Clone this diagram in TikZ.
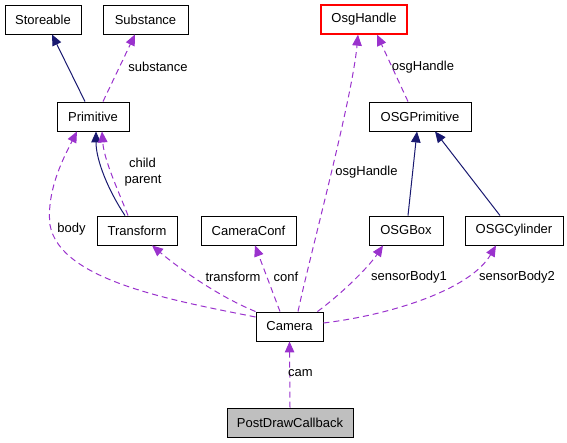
\documentclass[tikz,border=0pt]{standalone}
\usepackage{fontspec}
\setmainfont{Liberation Sans}
\usetikzlibrary{arrows.meta}
\definecolor{navyline}{HTML}{191970}
\definecolor{purpleline}{HTML}{9A32CD}
\definecolor{callbackfill}{HTML}{BFBFBF}

\begin{document}
\begin{tikzpicture}[x=1pt, y=-1pt,
		classbox/.style={draw=black, line width=0.9pt, minimum height=29pt, inner sep=0pt, font=\fontsize{13}{15}\selectfont},
		inheritline/.style={draw=navyline, line width=1pt, -{Triangle[length=11pt,width=9.5pt]}},
		useline/.style={draw=purpleline, line width=1pt, dash pattern=on 6pt off 4pt, -{Triangle[length=11pt,width=9.5pt]}},
		edgelabel/.style={font=\fontsize{13}{15}\selectfont, inner sep=0pt}]
			%%%%% START %%%%%
			
			\useasboundingbox (0, 0) rectangle (567, 443);
			
			\node[classbox, minimum width=76pt] (storeable) at (43, 19.5) {Storeable};
			\node[classbox, minimum width=85pt] (substance) at (145.5, 19.5) {Substance};
			\node[classbox, minimum width=86pt, draw=red, line width=1.3pt] (osghandle) at (364, 19.5) {OsgHandle};
			
			\node[classbox, minimum width=72pt] (primitive) at (93, 116.5) {Primitive};
			\node[classbox, minimum width=102pt] (osgprimitive) at (420, 116.5) {OSGPrimitive};
			
			\node[classbox, minimum width=80pt] (transform) at (137, 230.5) {Transform};
			\node[classbox, minimum width=95pt] (cameraconf) at (248.5, 230.5) {CameraConf};
			\node[classbox, minimum width=74pt] (osgbox) at (406, 230.5) {OSGBox};
			\node[classbox, minimum width=98pt] (osgcylinder) at (514, 230.5) {OSGCylinder};
			
			\node[classbox, minimum width=67pt] (camera) at (289.5, 326.5) {Camera};
			\node[classbox, minimum width=126pt, fill=callbackfill] (postdraw) at (290, 422.5) {PostDrawCallback};
			
			% top row
			\draw[inheritline] ([xshift=-8pt]primitive.north) -- ([xshift=9pt]storeable.south);
			\draw[useline] ([xshift=10pt]primitive.north) -- ([xshift=-10.5pt]substance.south);
			\node[edgelabel] (lsubstance) at (158, 67) {substance};
			\draw[useline] ([xshift=-12pt]osgprimitive.north) -- ([xshift=13pt]osghandle.south);
			\node[edgelabel] (losghandle) at (423, 67) {osgHandle};
			
			% transform <-> primitive
			\draw[inheritline] ([xshift=-12pt]transform.north) .. controls (108, 190) and (96, 160) .. ([xshift=3pt]primitive.south);
			\draw[useline] ([xshift=-9pt]transform.north) .. controls (118, 190) and (104, 160) .. ([xshift=9pt]primitive.south);
			\node[edgelabel] (lchild) at (142.5, 163) {child};
			\node[edgelabel] (lparent) at (143, 181) {parent};
			
			\draw[inheritline] ([xshift=2pt]osgbox.north) -- ([xshift=-3pt]osgprimitive.south);
			\draw[inheritline] ([xshift=-14pt]osgcylinder.north) -- ([xshift=15pt]osgprimitive.south);
			
			% camera members
			\draw[useline] ([yshift=9.5pt]camera.west) .. controls (170, 300) and (60, 280) .. (50, 225) .. controls (46, 190) and (65, 155) .. ([xshift=-16pt]primitive.south);
			\node[edgelabel] (lbody) at (71.5, 229) {body};
			\draw[useline] (camera.north west) .. controls (215, 295) and (175, 265) .. ([xshift=15pt]transform.south);
			\node[edgelabel] (ltransform) at (233, 277) {transform};
			\draw[useline] ([xshift=-9.5pt]camera.north) -- ([xshift=6.5pt]cameraconf.south);
			\node[edgelabel] (lconf) at (286, 277) {conf};
			\draw[useline] ([xshift=8.5pt]camera.north) .. controls (310, 255) and (352, 100) .. ([xshift=-6pt]osghandle.south);
			\node[edgelabel] (losghandlecam) at (366.5, 172) {osgHandle};
			\draw[useline] ([xshift=-6pt]camera.north east) .. controls (340, 295) and (368, 268) .. ([xshift=-23pt]osgbox.south);
			\node[edgelabel] (lsensorone) at (409, 277) {sensorBody1};
			\draw[useline] ([yshift=3.5pt]camera.east) .. controls (390, 315) and (470, 290) .. ([xshift=-18pt]osgcylinder.south);
			\node[edgelabel] (lsensortwo) at (517, 277) {sensorBody2};
			
			\draw[useline] (postdraw.north) -- (camera.south);
			\node[edgelabel] (lcam) at (300.5, 373) {cam};
			
			%%%%% END %%%%%
		\end{tikzpicture}
\end{document}
